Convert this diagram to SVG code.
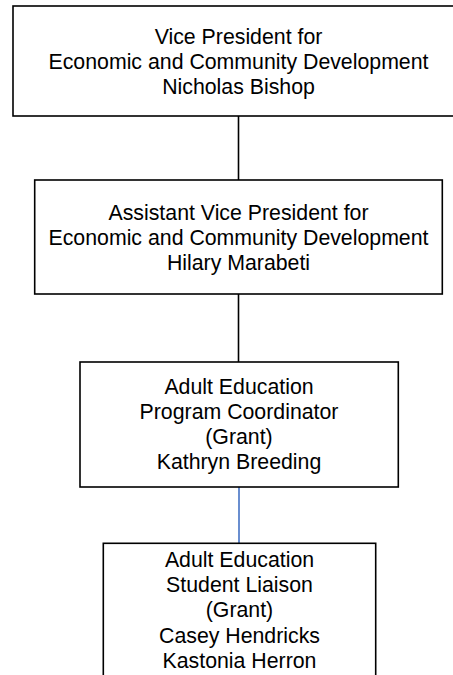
<svg xmlns="http://www.w3.org/2000/svg" width="453" height="675" viewBox="0 0 453 675">
<style>
.box{fill:#fff;stroke:#000;stroke-width:1.6}
.t{font-family:"Liberation Sans",Arial,sans-serif;font-size:21.3px;fill:#000;text-anchor:middle}
.c{stroke:#000;stroke-width:1.6;fill:none}
.cb{stroke:#4472C4;stroke-width:1.6;fill:none}
</style>
<rect width="453" height="675" fill="#fff"/>
<g id="connectors">
<line class="c" x1="238.5" y1="116" x2="238.5" y2="180"/>
<line class="c" x1="238.5" y1="294" x2="238.5" y2="362"/>
<line class="cb" x1="239" y1="487" x2="239" y2="543"/>
</g>
<g id="vp">
<rect class="box" x="13" y="6" width="452" height="110"/>
<text class="t" x="238.5" y="44">Vice President for</text>
<text class="t" x="238.5" y="69">Economic and Community Development</text>
<text class="t" x="238.5" y="94">Nicholas Bishop</text>
</g>
<g id="avp">
<rect class="box" x="34.7" y="180" width="407.6" height="114"/>
<text class="t" x="238.5" y="220">Assistant Vice President for</text>
<text class="t" x="238.5" y="245">Economic and Community Development</text>
<text class="t" x="238.5" y="270">Hilary Marabeti</text>
</g>
<g id="coordinator">
<rect class="box" x="80" y="362" width="318.3" height="125"/>
<text class="t" x="239" y="393.5">Adult Education</text>
<text class="t" x="239" y="418.7">Program Coordinator</text>
<text class="t" x="239" y="443.9">(Grant)</text>
<text class="t" x="239" y="469">Kathryn Breeding</text>
</g>
<g id="liaison">
<rect class="box" x="103.3" y="543.3" width="272.4" height="150"/>
<text class="t" x="239.5" y="566.7">Adult Education</text>
<text class="t" x="239.5" y="592">Student Liaison</text>
<text class="t" x="239.5" y="617.4">(Grant)</text>
<text class="t" x="239.5" y="642.8">Casey Hendricks</text>
<text class="t" x="239.5" y="668.2">Kastonia Herron</text>
</g>
</svg>
